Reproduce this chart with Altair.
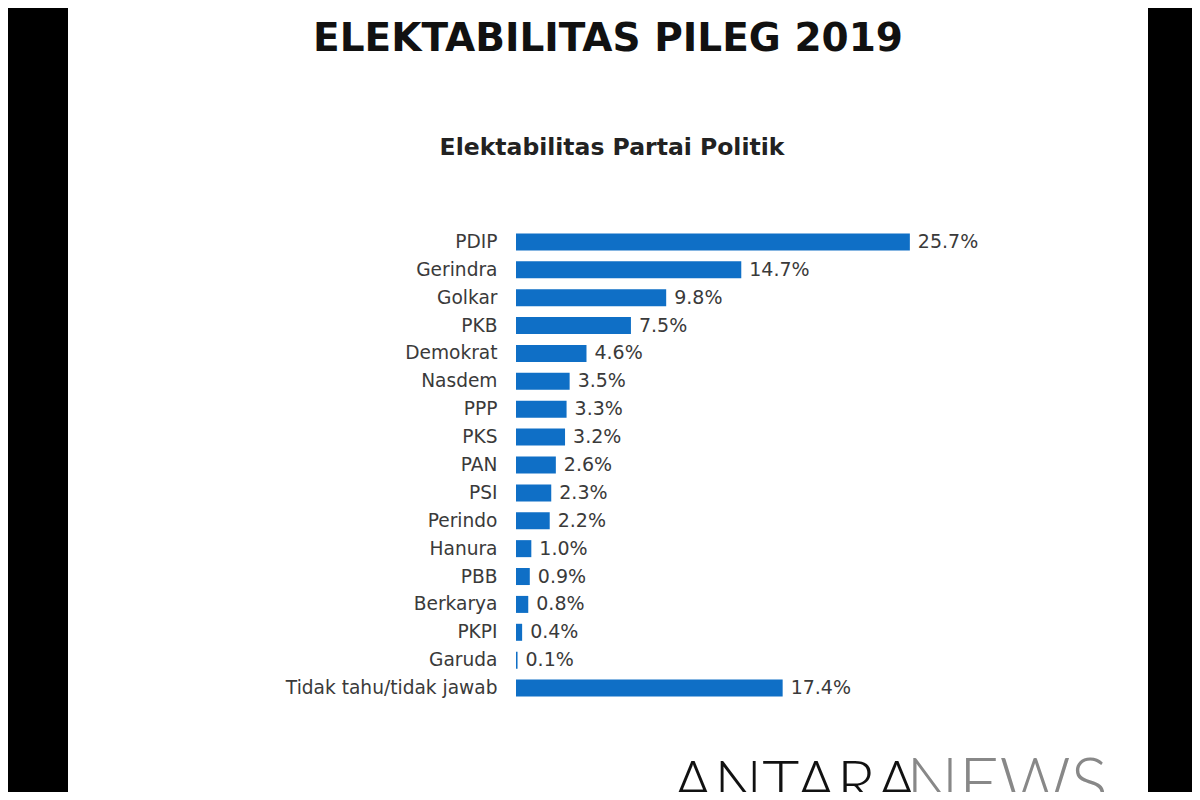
import altair as alt
import pandas as pd

parties = ["PDIP", "Gerindra", "Golkar", "PKB", "Demokrat", "Nasdem", "PPP", "PKS",
           "PAN", "PSI", "Perindo", "Hanura", "PBB", "Berkarya", "PKPI", "Garuda",
           "Tidak tahu/tidak jawab"]
values = [25.7, 14.7, 9.8, 7.5, 4.6, 3.5, 3.3, 3.2, 2.6, 2.3, 2.2, 1.0, 0.9, 0.8, 0.4, 0.1, 17.4]

title_text = "ELEKTABILITAS PILEG 2019"
subtitle_text = "Elektabilitas Partai Politik"

df = pd.DataFrame({"party": parties, "value": values,
                   "label": [f"{v:.1f}%" for v in values]})

# page geometry: plot origin at page (516, 228)
PL, PT = 508, 220
W, H = 613, 474
TOTAL_W, TOTAL_H = 1184, 784

y_enc = alt.Y("party:N", sort=parties,
              scale=alt.Scale(paddingInner=0.39, paddingOuter=0.195),
              axis=alt.Axis(title=None, domain=False, ticks=False, labelPadding=19,
                            labelFont="DejaVu Sans", labelFontSize=18.6,
                            labelColor="#3a3a3a", labelLimit=400, zindex=2))
x_enc = alt.X("value:Q", scale=alt.Scale(domain=[0, 40], nice=False),
              axis=None)

base = alt.Chart(df)

# white page panel with black borders
panel = alt.Chart(pd.DataFrame({"k": [0]})).mark_rect(color="white").encode(
    x=alt.value(68 - 516), x2=alt.value(1148 - 516),
    y=alt.value(-PT - 10), y2=alt.value(TOTAL_H - PT + 10))

bars = base.mark_bar(color="#0F6FC6").encode(y=y_enc, x=x_enc)
labels = base.mark_text(align="left", baseline="middle", dx=8,
                        font="DejaVu Sans", fontSize=19, color="#3a3a3a").encode(
    y=alt.Y("party:N", sort=parties), x="value:Q", text="label:N")

tdf = pd.DataFrame({"t": [title_text]})
title = alt.Chart(tdf).mark_text(font="DejaVu Sans", fontWeight="bold", fontSize=39,
                                 color="#111111", align="center", baseline="middle").encode(
    text="t:N", x=alt.value(608 - 516), y=alt.value(39 - 228))
sdf = pd.DataFrame({"t": [subtitle_text]})
subtitle = alt.Chart(sdf).mark_text(font="DejaVu Sans", fontWeight="bold", fontSize=23.5,
                                    color="#222222", align="center", baseline="middle").encode(
    text="t:N", x=alt.value(612 - 516), y=alt.value(148 - 228))

wm1 = alt.Chart(pd.DataFrame({"t": ["ANTARA"]})).mark_text(
    font="Lato", fontWeight=300, fontSize=64, color="#111111", align="left",
    baseline="alphabetic").encode(text="t:N", x=alt.value(672 - 516), y=alt.value(806 - 228))
wm2 = alt.Chart(pd.DataFrame({"t": ["NEWS"]})).mark_text(
    font="Lato", fontWeight=300, fontSize=70, color="#888888", align="left",
    baseline="alphabetic").encode(text="t:N", x=alt.value(906 - 516), y=alt.value(808 - 228))

chart = alt.layer(panel, bars, labels, title, subtitle, wm1, wm2).resolve_scale(
    y="shared").properties(
    width=W, height=H,
    autosize=alt.AutoSizeParams(type="none"),
    padding={"left": PL, "top": PT, "right": TOTAL_W - PL - W, "bottom": TOTAL_H - PT - H},
    background="black",
).configure_view(stroke=None)

chart.save("out.html", embed_options={"renderer": "svg", "actions": False})
